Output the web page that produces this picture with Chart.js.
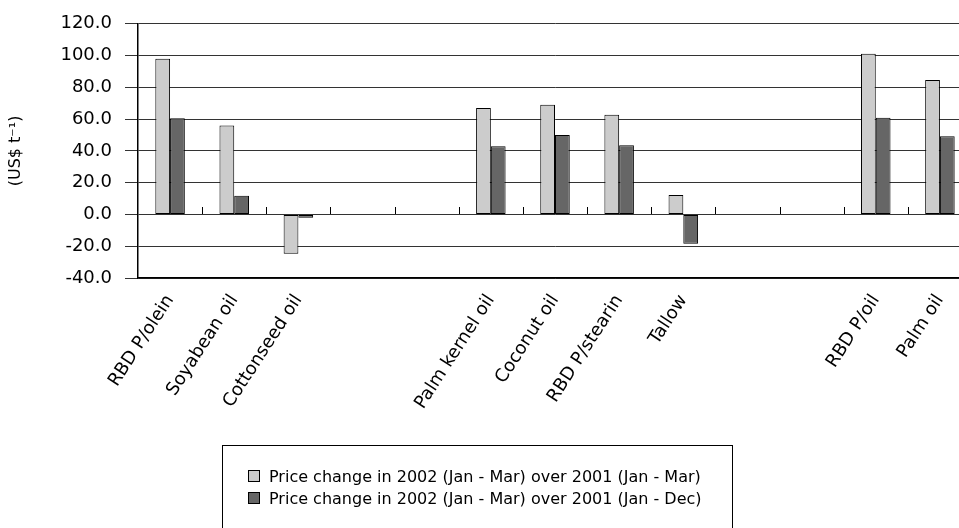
<!DOCTYPE html>
<html><head><meta charset="utf-8">
<script src="https://cdn.jsdelivr.net/npm/chart.js@4"></script>
<style>
html,body{margin:0;padding:0;background:#fff;overflow:hidden;width:959px;height:528px;}
#wrap{position:relative;width:972px;height:528px;}
#legend{position:absolute;left:222px;top:445px;width:511px;height:120px;border:1px solid #000;box-sizing:border-box;font-family:"DejaVu Sans";font-size:16px;color:#000;padding:19px 0 0 25px;}
.item{display:flex;align-items:center;height:22px;white-space:nowrap;}
.sw{width:12px;height:12px;border:1px solid #000;box-sizing:border-box;margin-right:9px;}
</style></head>
<body>
<div id="wrap"><canvas id="c" width="972" height="528"></canvas><div id="legend"></div></div>
<script>
const categories = ['RBD P/olein','Soyabean oil','Cottonseed oil','','','Palm kernel oil','Coconut oil','RBD P/stearin','Tallow','','','RBD P/oil','Palm oil'];
const seriesNames = ['Price change in 2002 (Jan - Mar) over 2001 (Jan - Mar)','Price change in 2002 (Jan - Mar) over 2001 (Jan - Dec)'];
const overJanMar = [98.0, 56.0, -24.7, null, null, 67.0, 69.1, 62.7, 12.3, null, null, 101.2, 84.6];
const overJanDec = [60.6, 11.8, -2.0, null, null, 42.9, 50.0, 43.6, -18.4, null, null, 60.8, 49.2];
const yTitle = '(US$ t\u207B\u00B9)';
const colors = ['#cccccc','#666666'];

const zeroTicks = {
  id:'zeroTicks',
  afterDatasetsDraw(chart){
    const x = chart.scales.x, y = chart.scales.y;
    const y0 = Math.round(y.getPixelForValue(0));
    const ctx = chart.ctx;
    ctx.save(); ctx.strokeStyle='#000'; ctx.lineWidth=1;
    ctx.beginPath();
    for(let i=1;i<categories.length;i++){
      const bx = Math.round((x.getPixelForValue(i-1)+x.getPixelForValue(i))/2)+0.5;
      ctx.moveTo(bx,y0); ctx.lineTo(bx,y0-7);
    }
    ctx.stroke(); ctx.restore();
  }
};

const chart = new Chart(document.getElementById('c'), {
  type:'bar',
  data:{
    labels:categories,
    datasets:[
      {label:seriesNames[0], data:overJanMar, backgroundColor:colors[0], borderColor:'#000', borderWidth:1, borderSkipped:false},
      {label:seriesNames[1], data:overJanDec, backgroundColor:colors[1], borderColor:'#000', borderWidth:1, borderSkipped:false}
    ]
  },
  options:{
    responsive:false, animation:false,
    categoryPercentage:0.46, barPercentage:1.0,
    layout:{padding:{top:21,right:0,left:0,bottom:0}},
    plugins:{legend:{display:false}, tooltip:{enabled:false}},
    scales:{
      x:{
        offset:true,
        grid:{display:false, drawTicks:false},
        border:{display:true,color:'#000',width:1.5},
        ticks:{autoSkip:false, minRotation:57, maxRotation:57, padding:13, color:'#000', font:{family:'DejaVu Sans', size:18}},
        afterFit(s){ s.height = 250; }
      },
      y:{
        min:-40, max:120,
        ticks:{stepSize:20, color:'#000', padding:13, font:{family:'DejaVu Sans', size:18}, callback:v=>v.toFixed(1)},
        grid:{color:'#333', lineWidth:1, tickLength:13, tickColor:'#333'},
        border:{display:true,color:'#000',width:1.5},
        title:{display:true, text:yTitle, color:'#000', font:{family:'DejaVu Sans', size:16}, padding:{top:6,bottom:0}},
        afterFit(s){ s.width = 138; }
      }
    }
  },
  plugins:[zeroTicks]
});

const lg = document.getElementById('legend');
chart.data.datasets.forEach(ds=>{
  const it = document.createElement('div'); it.className='item';
  const sw = document.createElement('span'); sw.className='sw'; sw.style.background=ds.backgroundColor;
  const tx = document.createElement('span'); tx.textContent = ds.label;
  it.appendChild(sw); it.appendChild(tx); lg.appendChild(it);
});
</script>
</body></html>
